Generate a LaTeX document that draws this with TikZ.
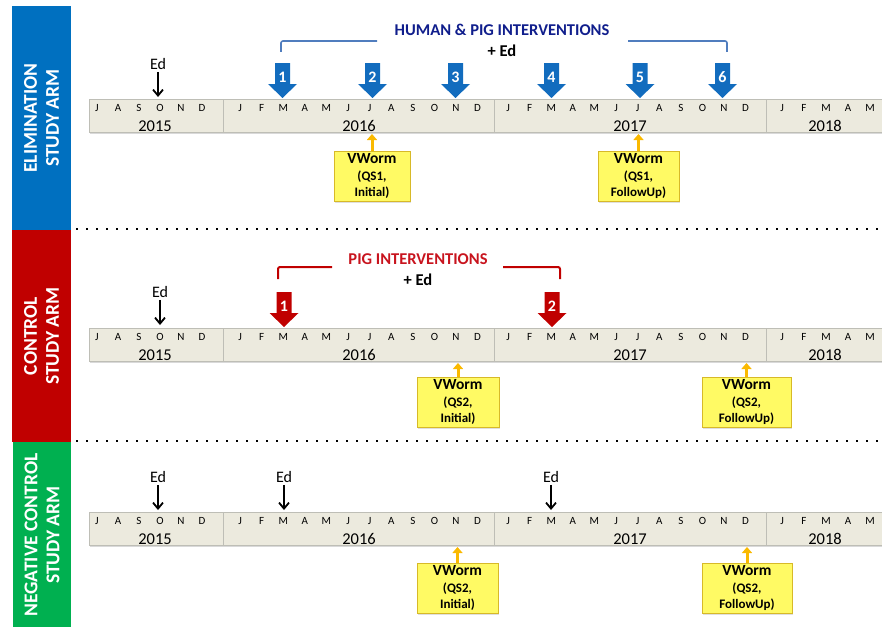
\documentclass[tikz,border=0pt]{standalone}
\usepackage{fontspec}
\setmainfont{Carlito}
\usetikzlibrary{arrows.meta,shadows}
\definecolor{armblue}{RGB}{0,112,192}
\definecolor{armred}{RGB}{192,0,0}
\definecolor{armgreen}{RGB}{0,176,80}
\definecolor{barfill}{RGB}{236,234,222}
\definecolor{barline}{RGB}{190,190,182}
\definecolor{arrblue}{RGB}{18,108,190}
\definecolor{brkblue}{RGB}{80,125,190}
\definecolor{navyt}{RGB}{16,30,140}
\definecolor{titred}{RGB}{200,20,30}
\definecolor{boxyel}{RGB}{255,250,100}
\definecolor{boxline}{RGB}{215,185,40}
\definecolor{ylarrow}{RGB}{250,185,0}
\tikzset{
 armbar/.style={rotate=90, text=white, font=\fontsize{19.5}{22}\selectfont\bfseries, align=center, inner sep=0pt},
 seg/.style={draw=barline, fill=barfill, line width=0.8pt, anchor=north west, minimum height=33pt, inner sep=0pt,
   drop shadow={shadow xshift=1pt, shadow yshift=-2pt, opacity=0.3}},
 month/.style={font=\fontsize{11}{12}\selectfont, inner sep=0pt},
 year/.style={font=\fontsize{16.5}{17}\selectfont, inner sep=0pt},
 edtext/.style={font=\fontsize{16}{17}\selectfont, inner sep=0pt},
 edarrow/.style={-{Straight Barb[length=6pt,width=10pt,line width=1.8pt]}, line width=1.8pt, black, shorten <=2pt},
 num/.style={text=white, font=\fontsize{16}{16}\selectfont\bfseries, inner sep=0pt},
 vbox/.style={draw=boxline, fill=boxyel, line width=0.8pt, align=center, font=\fontsize{13}{16.5}\selectfont\bfseries, inner sep=0pt,
   minimum height=50pt, drop shadow={shadow xshift=1pt, shadow yshift=-1.5pt, opacity=0.25}},
 vhead/.style={font=\fontsize{15.5}{16.5}\selectfont\bfseries},
 yarrow/.style={-{Triangle[length=6pt,width=10pt]}, line width=3pt, ylarrow},
 bracket/.style={line width=1.6pt, rounded corners=2pt},
 dotline/.style={line width=2pt, dash pattern=on 2pt off 8pt},
 titlet/.style={font=\fontsize{16.5}{18}\selectfont\bfseries, inner sep=0pt},
}
\newcommand\vw{\fontsize{15.5}{16.5}\selectfont VWorm}
\newcommand\tline[2]{%
\begin{scope}[yshift=-#2pt]
 \node[seg, minimum width=134pt] (#1s15) at (89,99) {};
 \node[seg, minimum width=271pt] (#1s16) at (223,99) {};
 \node[seg, minimum width=272pt] (#1s17) at (494,99) {};
 \node[seg, minimum width=120pt] (#1s18) at (766,99) {};
 \foreach \m [count=\i from 0] in {J,A,S,O,N,D} \node[month] (#1a\i) at ({97+21*\i},108) {\m};
 \foreach \m [count=\i from 0] in {J,F,M,A,M,J,J,A,S,O,N,D} \node[month] (#1b\i) at ({240+21.6*\i},108) {\m};
 \foreach \m [count=\i from 0] in {J,F,M,A,M,J,J,A,S,O,N,D} \node[month] (#1c\i) at ({508+21.6*\i},108) {\m};
 \foreach \m [count=\i from 0] in {J,F,M,A,M} \node[month] (#1d\i) at ({782+22*\i},108) {\m};
 \node[year] (#1y15) at (155,126) {2015};
 \node[year] (#1y16) at (359,126) {2016};
 \node[year] (#1y17) at (630,126) {2017};
 \node[year] (#1y18) at (825,126) {2018};
\end{scope}}
\newcommand\blkarr[5]{%
 \fill[#5] (#2-7.5,#3) -- (#2+7.5,#3) -- (#2+7.5,#3+21) -- (#2+14.5,#3+21) -- (#2,#3+35)
   -- (#2-14.5,#3+21) -- (#2-7.5,#3+21) -- cycle;
 \node[num] (#1) at (#2,#3+14.5) {#4};}
\newcommand\edmark[3]{%
 \node[edtext] (#1) at (#2,#3) {Ed};
 \coordinate (#1t) at (#2,#3+33);
 \draw[edarrow] (#1.south) -- (#1t);}
\begin{document}
\begin{tikzpicture}[x=1pt,y=-1pt]
\useasboundingbox (0,0) rectangle (882,626);
% study arm bars
\node[armbar, fill=armblue, minimum width=224pt, minimum height=59pt] (armE) at (41.5,118) {ELIMINATION\\STUDY ARM};
\node[armbar, fill=armred, minimum width=212pt, minimum height=59pt] (armC) at (41.5,336) {CONTROL\\STUDY ARM};
\node[armbar, fill=armgreen, minimum width=186pt, minimum height=58pt] (armN) at (42,535) {NEGATIVE CONTROL\\STUDY ARM};
% separators
\draw[dotline] (76,229) -- (882,229);
\draw[dotline] (76,441) -- (882,441);
% timelines
\tline{r1}{0}
\tline{r2}{229}
\tline{r3}{413}
% row 1
\node[titlet, text=navyt] (t1) at (502,30) {HUMAN \& PIG INTERVENTIONS};
\node[titlet] (t1ed) at (502,51) {+ Ed};
\draw[bracket, brkblue] (281,52) -- (281,41) -- (377,41);
\draw[bracket, brkblue] (628,41) -- (727,41) -- (727,52);
\blkarr{h1}{282.5}{63}{1}{arrblue}
\blkarr{h2}{372.5}{63}{2}{arrblue}
\blkarr{h3}{455.5}{63}{3}{arrblue}
\blkarr{h4}{551.5}{63}{4}{arrblue}
\blkarr{h5}{640}{63}{5}{arrblue}
\blkarr{h6}{722.5}{63}{6}{arrblue}
\edmark{e1}{158}{64}
\node[vbox, minimum width=76pt] (v11) at (372,176) {\vw\\(QS1,\\Initial)};
\node[vbox, minimum width=81pt] (v12) at (638.5,176) {\vw\\(QS1,\\FollowUp)};
\coordinate (v11t) at (372,134);
\coordinate (v12t) at (638.5,134);
\draw[yarrow] (v11.north) -- (v11t);
\draw[yarrow] (v12.north) -- (v12t);
% row 2
\node[titlet, text=titred] (t2) at (418,259) {PIG INTERVENTIONS};
\node[titlet] (t2ed) at (418,280) {+ Ed};
\draw[bracket, armred, line width=2pt] (278,279) -- (278,267) -- (332,267);
\draw[bracket, armred, line width=2pt] (503,267) -- (560,267) -- (560,279);
\blkarr{p1}{284}{292}{1}{armred}
\blkarr{p2}{552}{292}{2}{armred}
\edmark{e2}{160}{292}
\node[vbox, minimum width=82pt] (v21) at (458,402) {\vw\\(QS2,\\Initial)};
\node[vbox, minimum width=89pt] (v22) at (746.5,402) {\vw\\(QS2,\\FollowUp)};
\coordinate (v21t) at (458,363);
\coordinate (v22t) at (746.5,363);
\draw[yarrow] (v21.north) -- (v21t);
\draw[yarrow] (v22.north) -- (v22t);
% row 3
\edmark{e31}{158}{477}
\edmark{e32}{284}{477}
\edmark{e33}{551}{477}
\node[vbox, minimum width=81pt] (v31) at (457.5,588) {\vw\\(QS2,\\Initial)};
\node[vbox, minimum width=90pt] (v32) at (747,588) {\vw\\(QS2,\\FollowUp)};
\coordinate (v31t) at (457.5,547);
\coordinate (v32t) at (747,547);
\draw[yarrow] (v31.north) -- (v31t);
\draw[yarrow] (v32.north) -- (v32t);
\end{tikzpicture}
\end{document}
